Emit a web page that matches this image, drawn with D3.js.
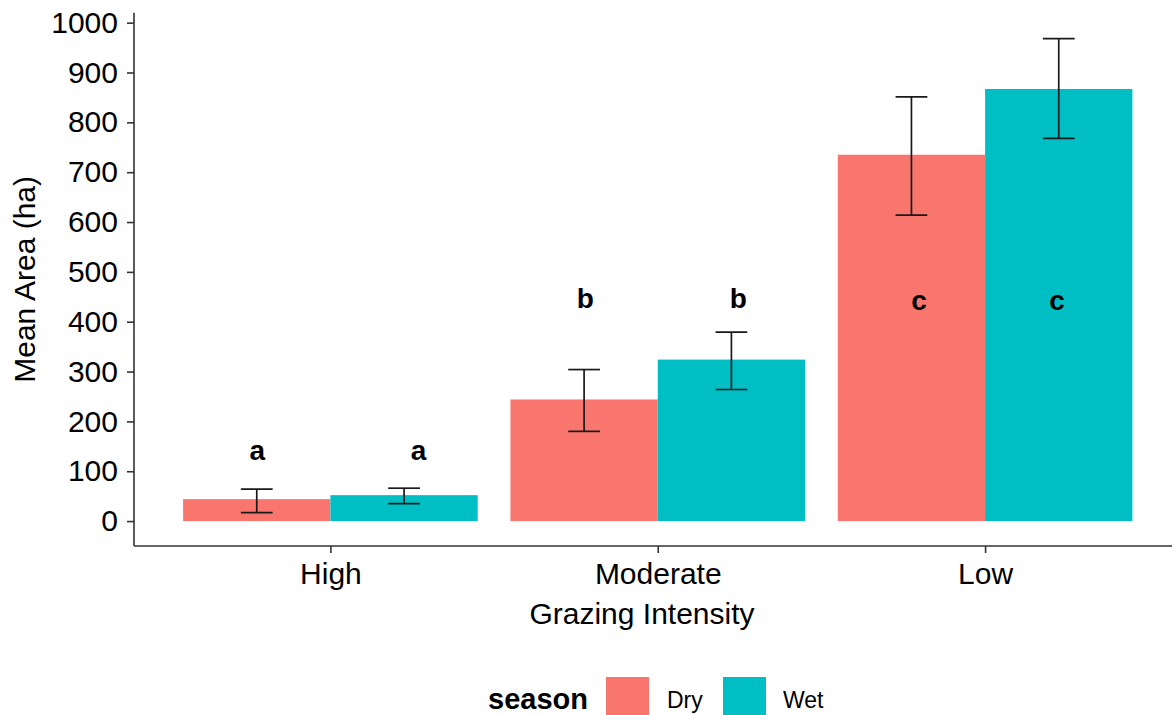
<!DOCTYPE html>
<html>
<head>
<meta charset="utf-8">
<script src="https://cdn.jsdelivr.net/npm/d3@7"></script>
<style>
  body { margin: 0; background: #fff; }
  svg { display: block; font-family: "Liberation Sans", Arial, sans-serif; }
</style>
</head>
<body>
<div id="chart"></div>
<script>
// data
const categories = ['High', 'Moderate', 'Low'];
const seasons = ['Dry', 'Wet'];
const meanDry = [44, 244, 735];
const meanWet = [52, 324, 867];
const lowDry = [17, 180, 614];
const highDry = [64, 304, 851];
const lowWet = [35, 264, 768];
const highWet = [66, 379, 968];
const letters = ['a', 'a', 'b', 'b', 'c', 'c'];
const letterX = [0.777, 1.269, 1.779, 2.246, 2.798, 3.22]; // continuous x (1 = High)
const letterY = [141, 141, 447, 447, 443, 443];
const yTicks = d3.range(0, 1001, 100);
const colors = ['#F8766D', '#00BFC4'];

// rows for the bars
const rows = [];
categories.forEach((c, i) => {
    rows.push({cat: c, season: 'Dry', mean: meanDry[i], lo: lowDry[i], hi: highDry[i]});
    rows.push({cat: c, season: 'Wet', mean: meanWet[i], lo: lowWet[i], hi: highWet[i]});
});

const width = 1172, height = 715;
const panel = {l: 134, r: 1181.5, t: 12.7, b: 546};

const svg = d3.select('#chart').append('svg')
    .attr('width', width)
    .attr('height', height);

// scales
const scaleX = d3.scalePoint()
    .domain(categories)
    .range([panel.l, panel.r])
    .padding(0.6);
const step = scaleX.step();
const scaleDodge = d3.scaleBand()
    .domain(seasons)
    .range([-0.45 * step, 0.45 * step]);
const scaleXc = d3.scaleLinear()
    .domain([1, 3])
    .range([scaleX('High'), scaleX('Low')]);
const scaleY = d3.scaleLinear()
    .domain([-50, 1020])
    .range([panel.b, panel.t]);
const scaleColor = d3.scaleOrdinal().domain(seasons).range(colors);

// bars
svg.append('g').selectAll('rect')
    .data(rows)
    .join('rect')
    .attr('x', d => scaleX(d.cat) + scaleDodge(d.season))
    .attr('y', d => scaleY(d.mean))
    .attr('width', scaleDodge.bandwidth())
    .attr('height', d => scaleY(0) - scaleY(d.mean))
    .style('fill', d => scaleColor(d.season));

// error bars
const capHalf = 0.0485 * step;
const err = svg.append('g')
    .style('stroke', '#1a1a1a')
    .style('stroke-width', 1.7)
    .style('fill', 'none');
const errG = err.selectAll('g')
    .data(rows)
    .join('g')
    .attr('transform', d => `translate(${scaleX(d.cat) + scaleDodge(d.season) + scaleDodge.bandwidth() / 2},0)`);
errG.append('line')
    .attr('x1', 0).attr('x2', 0)
    .attr('y1', d => scaleY(d.lo))
    .attr('y2', d => scaleY(d.hi));
errG.append('line')
    .attr('x1', -capHalf).attr('x2', capHalf)
    .attr('y1', d => scaleY(d.lo))
    .attr('y2', d => scaleY(d.lo));
errG.append('line')
    .attr('x1', -capHalf).attr('x2', capHalf)
    .attr('y1', d => scaleY(d.hi))
    .attr('y2', d => scaleY(d.hi));

// significance letters
svg.append('g').selectAll('text')
    .data(letters)
    .join('text')
    .attr('x', (d, i) => scaleXc(letterX[i]))
    .attr('y', (d, i) => scaleY(letterY[i]))
    .attr('text-anchor', 'middle')
    .attr('dominant-baseline', 'central')
    .style('font-size', '28px')
    .style('font-weight', 'bold')
    .style('fill', '#000')
    .text(d => d);

// axes
const axisY = d3.axisLeft(scaleY)
    .tickValues(yTicks)
    .tickFormat(d3.format('d'))
    .tickSize(7)
    .tickPadding(9);
const axisYNode = svg.append('g')
    .attr('transform', `translate(${panel.l},0)`)
    .call(axisY);
axisYNode.select('.domain').attr('d', `M0,${panel.t}V${panel.b}`);

const axisX = d3.axisBottom(scaleX)
    .tickSize(7)
    .tickPadding(10);
const axisXNode = svg.append('g')
    .attr('transform', `translate(0,${panel.b})`)
    .call(axisX);
axisXNode.select('.domain').attr('d', `M${panel.l},0H${panel.r}`);

[axisYNode, axisXNode].forEach(a => {
    a.selectAll('.domain, .tick line')
        .style('stroke', '#333')
        .style('stroke-width', 1.6);
    a.selectAll('.tick text')
        .style('font-size', '30px')
        .style('fill', '#000')
        .style('font-family', '"Liberation Sans", Arial, sans-serif');
});
axisXNode.selectAll('.tick text').attr('dy', '0.71em');

// axis titles
svg.append('text')
    .attr('transform', `translate(35,${(panel.t + panel.b) / 2}) rotate(-90)`)
    .attr('text-anchor', 'middle')
    .style('font-size', '30px')
    .text('Mean Area (ha)');

svg.append('text')
    .attr('x', 642)
    .attr('y', 624)
    .attr('text-anchor', 'middle')
    .style('font-size', '30px')
    .text('Grazing Intensity');

// legend
const legend = svg.append('g').attr('transform', 'translate(488,0)');
legend.append('text')
    .attr('x', 0)
    .attr('y', 709)
    .style('font-size', '29px')
    .style('font-weight', 'bold')
    .text('season');
const keyX = [118, 235];
const labX = [179, 295];
seasons.forEach((s, i) => {
    legend.append('rect')
        .attr('x', keyX[i])
        .attr('y', 677)
        .attr('width', 43)
        .attr('height', 43)
        .style('fill', scaleColor(s));
    legend.append('text')
        .attr('x', labX[i])
        .attr('y', 708)
        .style('font-size', '23px')
        .text(s);
});
</script>
</body>
</html>
